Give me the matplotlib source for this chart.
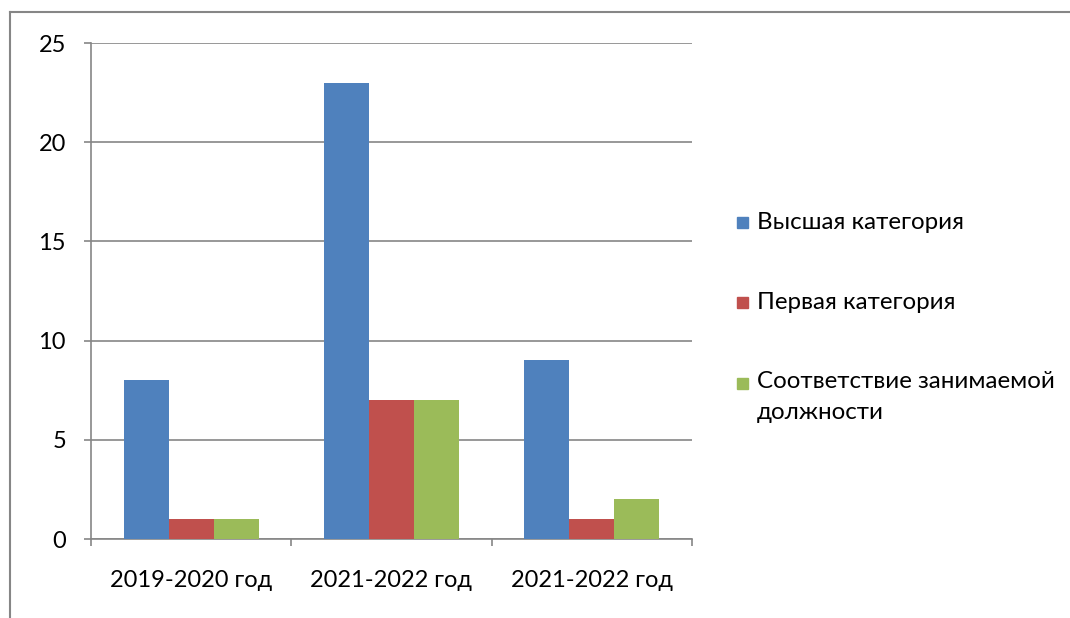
import numpy as np
import matplotlib.pyplot as plt
from matplotlib.patches import Rectangle
from matplotlib.lines import Line2D

years = ["2019-2020 год", "2021-2022 год", "2021-2022 год"]
series = ["Высшая категория", "Первая категория", "Соответствие занимаемой\nдолжности"]
vysshaya = [8, 23, 9]
pervaya = [1, 7, 1]
sootv = [1, 7, 2]
colors = ["#4F81BD", "#C0504D", "#9BBB59"]

plt.rcParams['font.family'] = ['Lato', 'DejaVu Sans']

fig = plt.figure(figsize=(10.7, 6.18), dpi=100)
ax = fig.add_axes([91/1070, 1-539/618, 601/1070, 496/618])

x = np.arange(len(years))
w = 0.225
vals = [vysshaya, pervaya, sootv]
for i in range(3):
    ax.bar(x + (i-1)*w, vals[i], w, color=colors[i], zorder=3)

ax.set_xlim(-0.5, 2.5)
ax.set_ylim(0, 25)
ax.set_yticks([0, 5, 10, 15, 20, 25])
ax.yaxis.grid(True, color="#868686", lw=1.2, zorder=0)
for s in ["top", "right"]:
    ax.spines[s].set_visible(False)
for s in ["left", "bottom"]:
    ax.spines[s].set_color("#868686")
    ax.spines[s].set_linewidth(1.2)
ax.set_xticks([-0.5, 0.5, 1.5, 2.5])
ax.set_xticklabels([])
ax.set_xticks(x, minor=True)
ax.set_xticklabels(years, minor=True, fontsize=17)
ax.tick_params(axis='x', which='minor', length=0, pad=22)
ax.tick_params(axis='x', which='major', length=5, color="#868686", width=1.2)
ax.tick_params(axis='y', length=5, color="#868686", width=1.2, labelsize=17, pad=13)

# legend drawn by hand
ys = [222, 302, 384]
for i in range(3):
    yc = 1 - ys[i]/618
    fig.patches.append(Rectangle((737/1070, yc - 5.5/618), 11/1070, 11/618,
                                 transform=fig.transFigure, color=colors[i]))
    if i < 2:
        fig.text(757/1070, yc, series[i], fontsize=17.4, va='center', ha='left')
    else:
        fig.text(757/1070, yc + 13/618, series[i], fontsize=17.4, va='top', ha='left',
                 linespacing=1.6)

# outer frame
fig.add_artist(Line2D([10/1070, 10/1070], [0, 1-12/618], color="#868686", lw=1.5))
fig.add_artist(Line2D([10/1070, 1], [1-12/618, 1-12/618], color="#868686", lw=1.5))

fig.savefig("out.png", dpi=100)
